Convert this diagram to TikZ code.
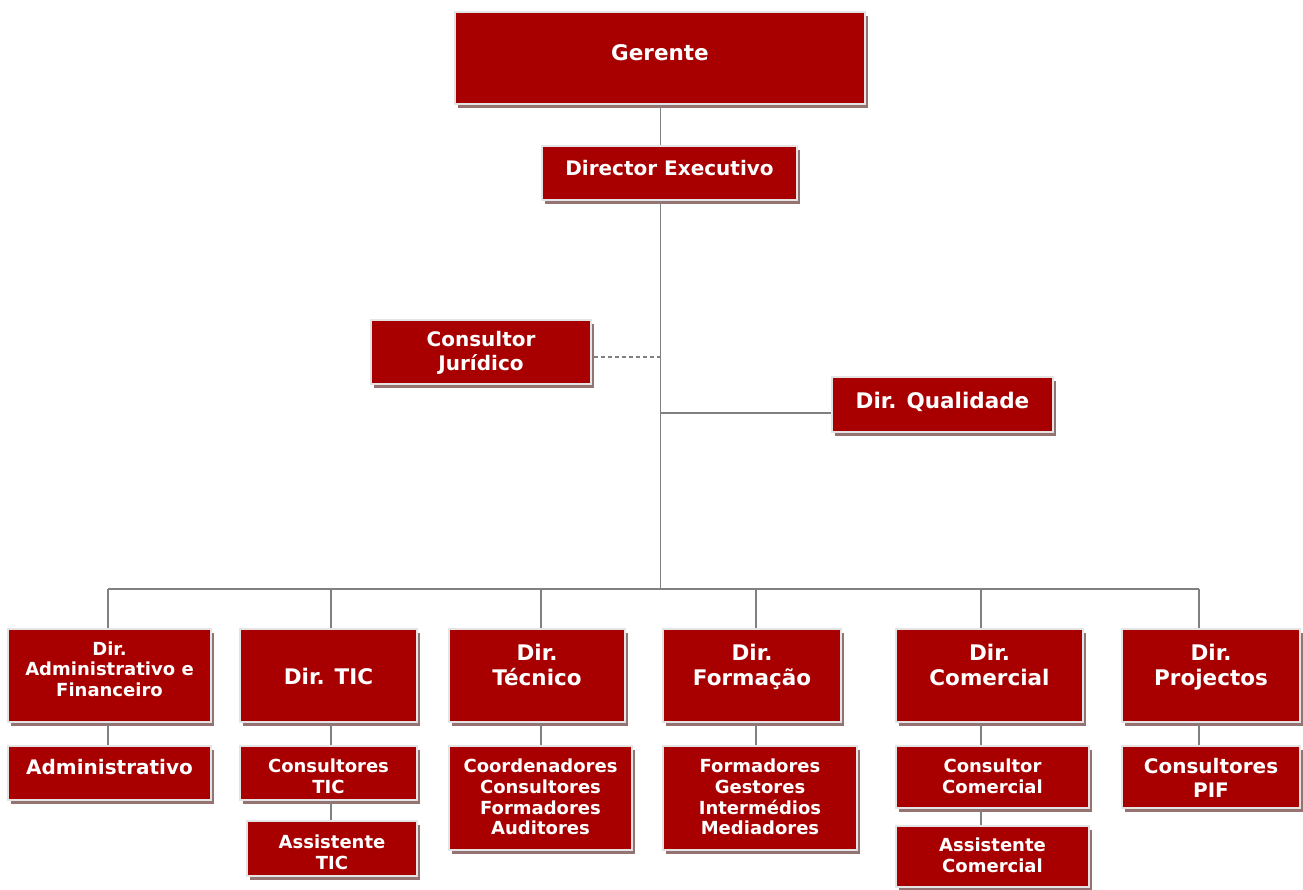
\documentclass[tikz,border=0pt]{standalone}
\usepackage{fontspec}
\setmainfont{DejaVu Sans}
\usetikzlibrary{shadows,calc}
\definecolor{boxred}{HTML}{A80000}
\definecolor{boxedge}{HTML}{E4E4E4}
\definecolor{shadowc}{HTML}{957373}
\definecolor{linec}{HTML}{808080}
\tikzset{
  obox/.style={rectangle, fill=boxred, draw=boxedge, line width=1.6pt, inner sep=0pt,
    drop shadow={shadow xshift=3pt, shadow yshift=-4pt, fill=shadowc, opacity=1}},
  txtbase/.style={text=white, align=center, inner sep=0pt, text depth=0pt},
  txtA/.style={txtbase, font=\fontsize{21.5}{25}\selectfont\bfseries},
  txtB/.style={txtbase, font=\fontsize{20}{24}\selectfont\bfseries},
  txtC/.style={txtbase, font=\fontsize{18}{20.7}\selectfont\bfseries},
  conn/.style={draw=linec, line width=1.5pt},
  dconn/.style={draw=linec, line width=1.5pt, dash pattern=on 4pt off 3pt}
}
% name, x1, y1, x2, y2, text centre y, text style, text
\newcommand\orgbox[8]{%
  \node[obox, minimum width={(#4-#2)*1pt}, minimum height={(#5-#3)*1pt},
    label={[#7, yshift={((#3+#5)/2-#6)*1pt}]center:{#8}}]
    (#1) at ({(#2+#4)/2},{(#3+#5)/2}) {};}
\begin{document}
\begin{tikzpicture}[x=1pt, y=-1pt]
\fill[white] (0,0) rectangle (1303,889);
\useasboundingbox (0,0) rectangle (1303,889);

\coordinate (trunk) at (660.5,589);
\coordinate (jd) at (660.5,357);
\coordinate (qd) at (660.5,413);
\coordinate (d1) at (108,589);
\coordinate (d2) at (331,589);
\coordinate (d3) at (541,589);
\coordinate (d4) at (756,589);
\coordinate (d5) at (981,589);
\coordinate (d6) at (1199,589);

\orgbox{ger}{455}{12}{865}{104}{53}{txtA}{Gerente}
\orgbox{dex}{542}{146}{797}{200}{168}{txtB}{Director Executivo}
\orgbox{jur}{371}{320}{591}{384}{351}{txtB}{Consultor\\Jurídico}
\orgbox{qual}{832}{377}{1053}{432}{400}{txtA}{Dir. Qualidade}

\orgbox{adm}{8}{629}{211}{722}{669}{txtC}{Dir.\\Administrativo e\\Financeiro}
\orgbox{tic}{240}{629}{417}{722}{676}{txtA}{Dir. TIC}
\orgbox{tec}{449}{629}{625}{722}{665}{txtA}{Dir.\\Técnico}
\orgbox{form}{663}{629}{841}{722}{665}{txtA}{Dir.\\Formação}
\orgbox{com}{896}{629}{1083}{722}{665}{txtA}{Dir.\\Comercial}
\orgbox{proj}{1122}{629}{1300}{722}{665}{txtA}{Dir.\\Projectos}

\orgbox{adm2}{8}{746}{211}{800}{767}{txtB}{Administrativo}
\orgbox{tic2}{240}{746}{417}{800}{776}{txtC}{Consultores\\TIC}
\orgbox{tic3}{247}{821}{417}{876}{852}{txtC}{Assistente\\TIC}
\orgbox{tec2}{449}{746}{632}{850}{797}{txtC}{Coordenadores\\Consultores\\Formadores\\Auditores}
\orgbox{form2}{663}{746}{857}{850}{797}{txtC}{Formadores\\Gestores\\Intermédios\\Mediadores}
\orgbox{com2}{896}{746}{1089}{808}{776}{txtC}{Consultor\\Comercial}
\orgbox{com3}{896}{826}{1089}{887}{855}{txtC}{Assistente\\Comercial}
\orgbox{proj2}{1122}{746}{1300}{808}{778}{txtB}{Consultores\\PIF}

% connectors
\draw[conn] (trunk |- ger.south) -- (trunk |- dex.north);
\draw[conn] (trunk |- dex.south) -- (trunk);
\draw[conn] (d1) -- (d6);
\draw[dconn] (jd) -- (jd -| jur.east);
\draw[conn] (qd) -- (qd -| qual.west);
\foreach \d in {d1,d2,d3,d4,d5,d6}{
  \draw[conn] (\d) -- (\d |- adm.north);
}
\draw[conn] (d1 |- adm.south) -- (d1 |- adm2.north);
\draw[conn] (d2 |- tic.south) -- (d2 |- tic2.north);
\draw[conn] (d2 |- tic2.south) -- (d2 |- tic3.north);
\draw[conn] (d3 |- tec.south) -- (d3 |- tec2.north);
\draw[conn] (d4 |- form.south) -- (d4 |- form2.north);
\draw[conn] (d5 |- com.south) -- (d5 |- com2.north);
\draw[conn] (d5 |- com2.south) -- (d5 |- com3.north);
\draw[conn] (d6 |- proj.south) -- (d6 |- proj2.north);
\end{tikzpicture}
\end{document}
